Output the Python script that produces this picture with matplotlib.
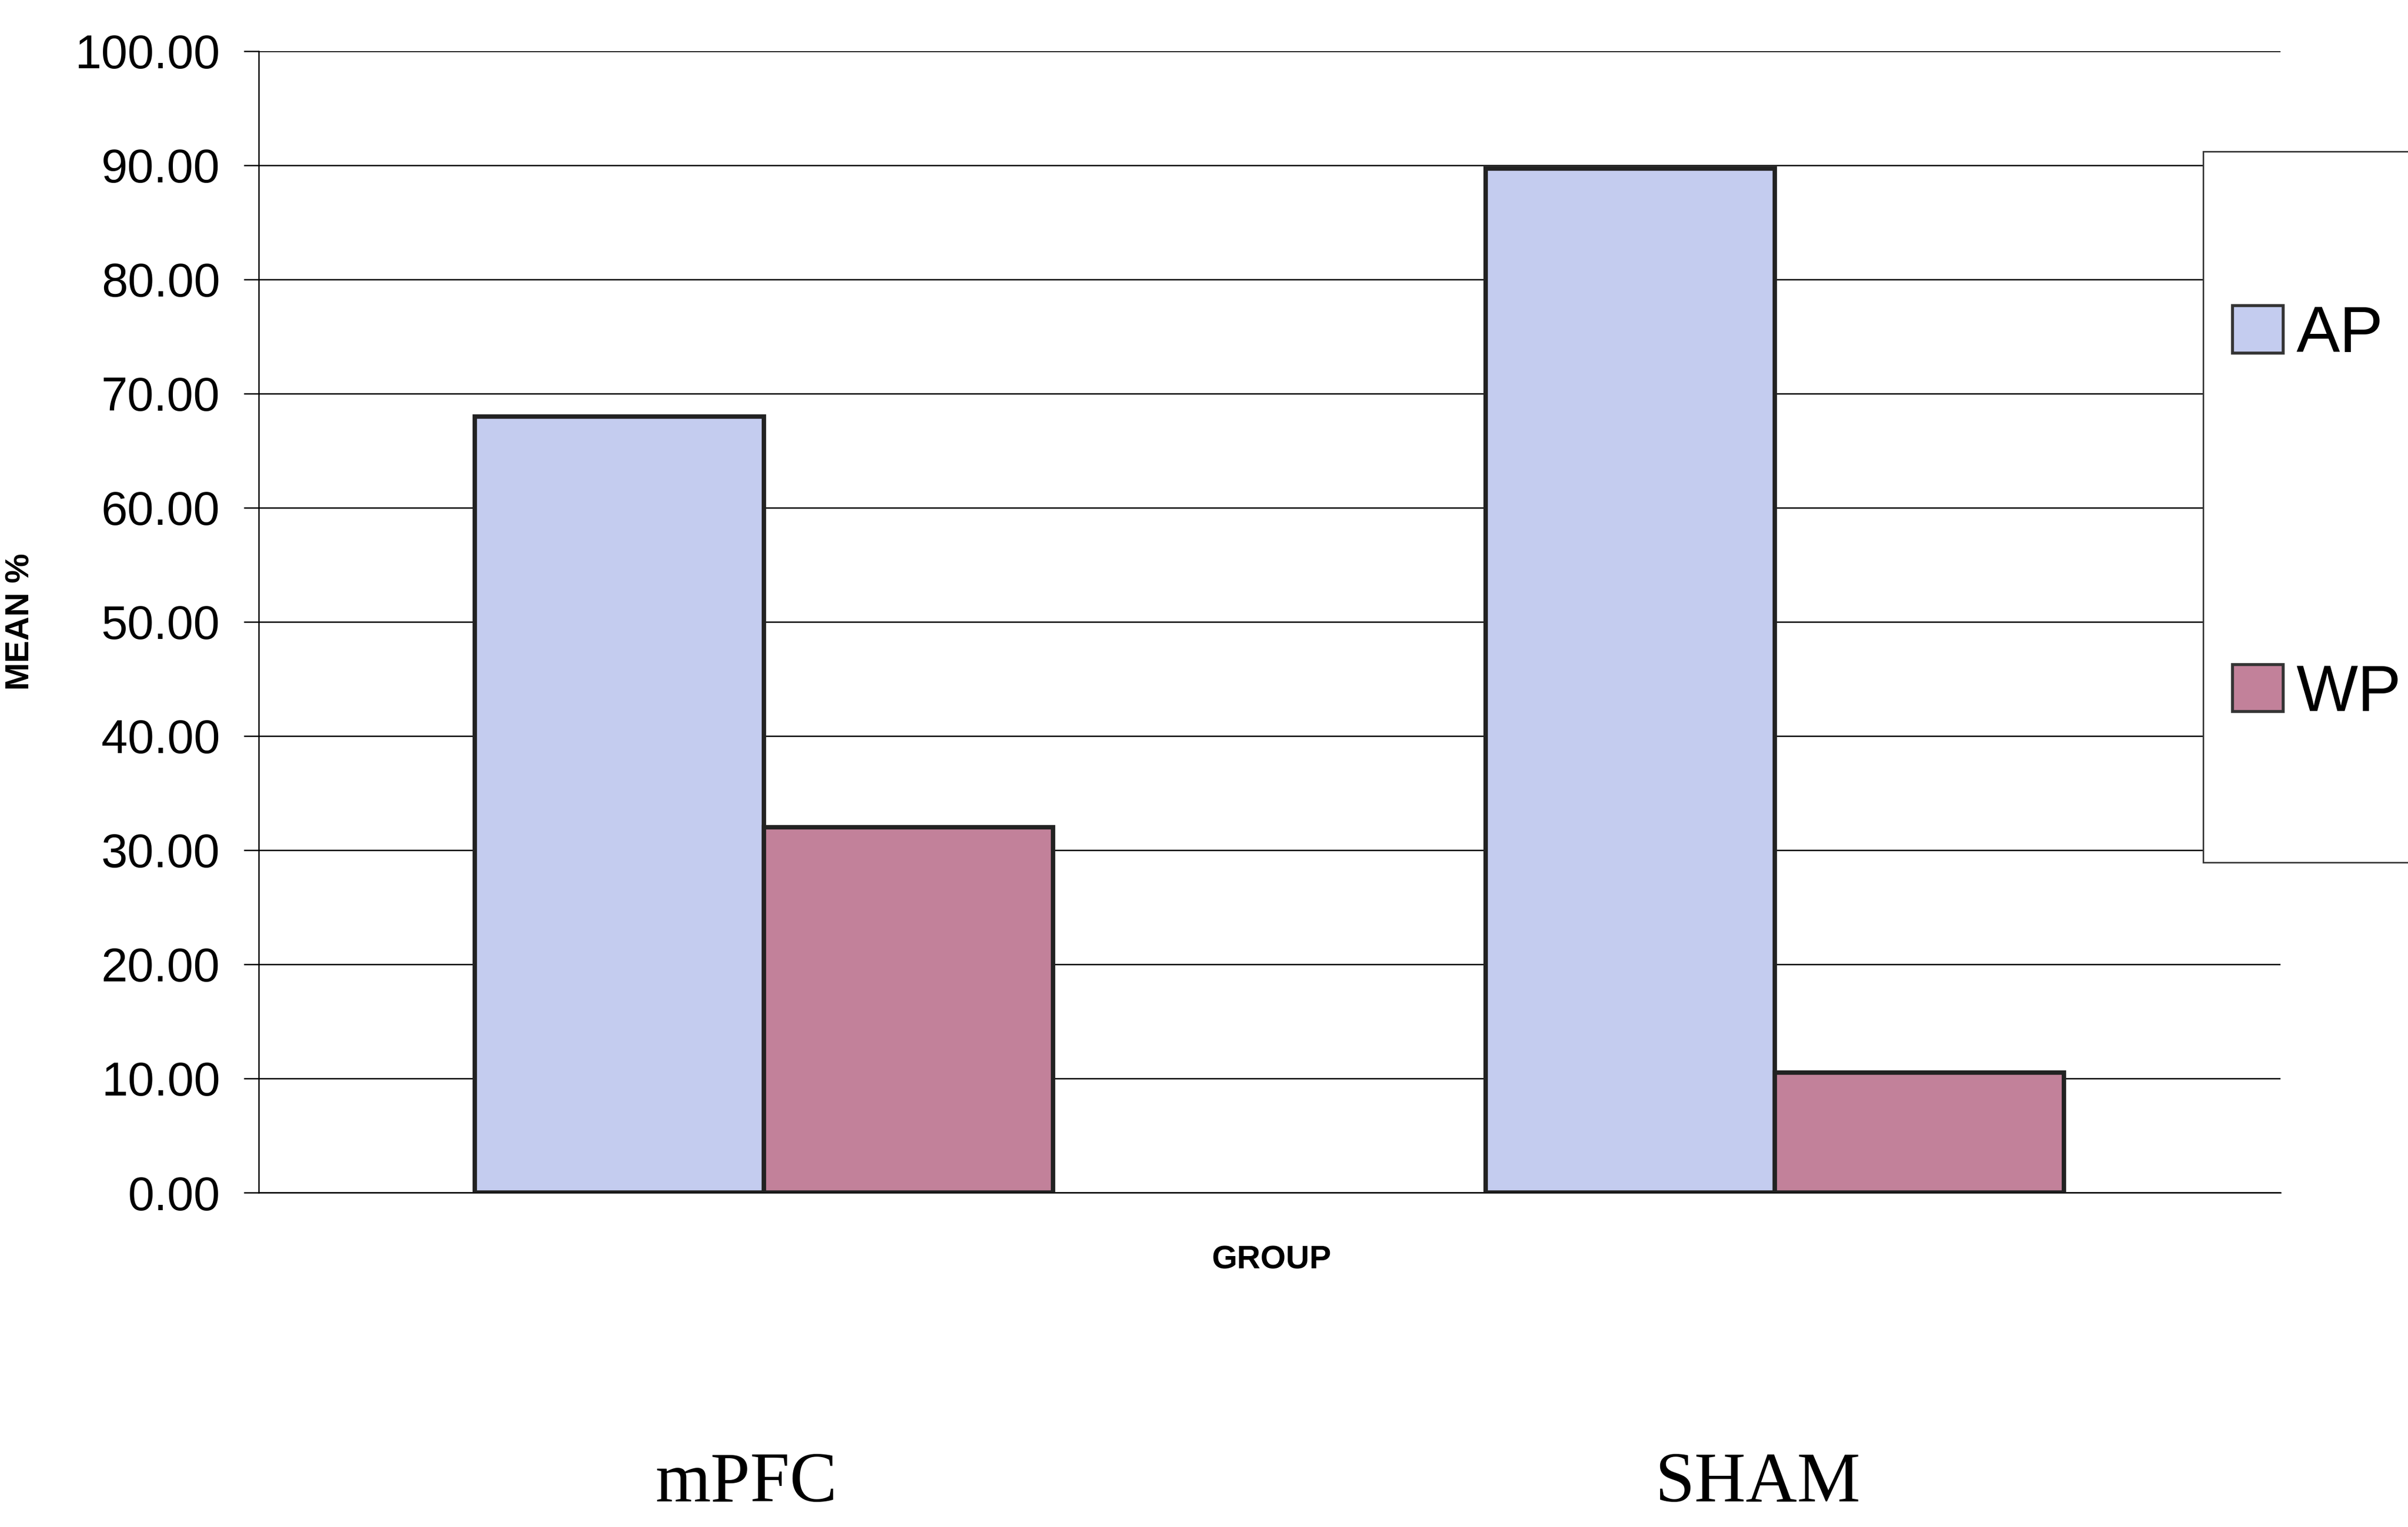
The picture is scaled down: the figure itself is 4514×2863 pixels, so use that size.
import matplotlib
matplotlib.use("Agg")
import matplotlib.pyplot as plt
import numpy as np
from matplotlib.transforms import ScaledTranslation
from matplotlib.patches import Rectangle

categories = ["mPFC", "SHAM"]
series_names = ["AP", "WP"]
ap_values = [68.0, 89.7]
wp_values = [32.0, 10.5]
yticks = [0, 10, 20, 30, 40, 50, 60, 70, 80, 90, 100]

ap_color = "#C4CCEF"
wp_color = "#C2819A"
edge = "#222222"

W, H = 4514, 2863
DPI = 100
fig = plt.figure(figsize=(W / DPI, H / DPI), dpi=DPI)
ax = fig.add_axes([0.1074, 0.219, 0.8396, 0.7475])

x = np.arange(len(categories))
w = 0.286
ax.bar(x - w / 2, ap_values, w, color=ap_color, edgecolor=edge, linewidth=6, label=series_names[0], zorder=3)
ax.bar(x + w / 2, wp_values, w, color=wp_color, edgecolor=edge, linewidth=6, label=series_names[1], zorder=3)

ax.set_xlim(-0.5, 1.5)
ax.set_ylim(0, 100)
ax.set_yticks(yticks)
ax.set_yticklabels([f"{v:.2f}" for v in yticks], fontfamily="Liberation Sans", fontsize=64)
ax.tick_params(axis="y", length=20, width=1.8, pad=32, color="black")
ax.yaxis.grid(True, color="black", linewidth=1.8)
ax.set_axisbelow(True)

for s in ["top", "right"]:
    ax.spines[s].set_visible(False)
ax.spines["left"].set_linewidth(1.8)
ax.spines["bottom"].set_linewidth(1.8)

ax.set_xticks(x)
ax.set_xticklabels(categories, fontfamily="Liberation Serif", fontsize=96)
ax.tick_params(axis="x", length=0, pad=350)
for lab in ax.get_xticklabels():
    lab.set_transform(lab.get_transform() + ScaledTranslation(-0.33, 0, fig.dpi_scale_trans))

ax.set_xlabel("GROUP", fontfamily="Liberation Sans", fontweight="bold", fontsize=44)
ax.xaxis.set_label_coords(0.501, -0.046)
ax.set_ylabel("MEAN %", fontfamily="Liberation Sans", fontweight="bold", fontsize=45)
ax.yaxis.set_label_coords(-0.11, 0.5)

# legend frame (extends past the right edge like the reference)
frame = Rectangle((4130 / W, 1 - 1617 / H), 500 / W, (1617 - 284) / H,
                  transform=fig.transFigure, facecolor="white", edgecolor="#333333",
                  linewidth=2, zorder=1)
fig.add_artist(frame)

handles, labels = ax.get_legend_handles_labels()
leg = fig.legend(handles, labels, loc="upper left",
                 bbox_to_anchor=(4185 / W, 1 - 571 / H),
                 bbox_transform=fig.transFigure,
                 prop={"family": "Liberation Sans", "size": 88},
                 handlelength=0.78, handleheight=0.74, handletextpad=0.2,
                 labelspacing=4.57, borderpad=0, borderaxespad=0,
                 frameon=False)
leg.set_zorder(5)
for h in leg.legend_handles:
    h.set_linewidth(4)
    h.set_edgecolor("#333333")

fig.savefig("out.png", dpi=DPI)
